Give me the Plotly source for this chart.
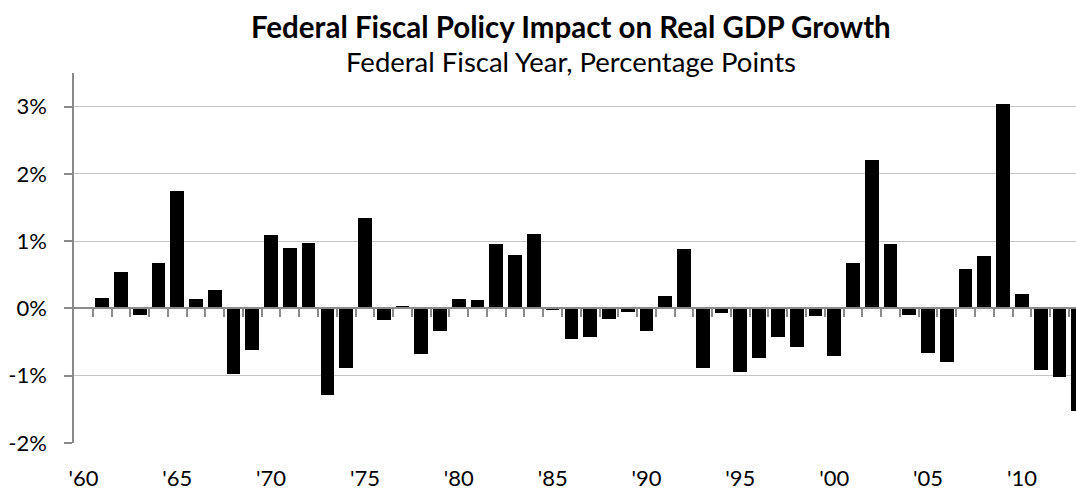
import plotly.graph_objects as go

# ---- data ----
years = list(range(1961, 2014))
impact = [0.15, 0.54, -0.09, 0.67, 1.75, 0.14, 0.27, -0.98, -0.62, 1.09,
          0.90, 0.97, -1.29, -0.89, 1.35, -0.17, 0.04, -0.67, -0.33, 0.14,
          0.13, 0.96, 0.80, 1.11, -0.03, -0.46, -0.43, -0.15, -0.05, -0.34,
          0.19, 0.88, -0.89, -0.07, -0.94, -0.74, -0.42, -0.57, -0.11, -0.71,
          0.67, 2.21, 0.96, -0.10, -0.66, -0.80, 0.59, 0.78, 3.04, 0.22,
          -0.92, -1.02, -1.53]

x_tick_years = [1960, 1965, 1970, 1975, 1980, 1985, 1990, 1995, 2000, 2005, 2010]
x_tick_labels = ["'60", "'65", "'70", "'75", "'80", "'85", "'90", "'95", "'00", "'05", "'10"]
boundary_ticks = [y + 0.5 for y in range(1960, 2013)]
y_tick_vals = [-2, -1, 0, 1, 2, 3]
y_tick_labels = ["-2%", "-1%", "0%", "1%", "2%", "3%"]

title_text = "Federal Fiscal Policy Impact on Real GDP Growth"
subtitle_text = "Federal Fiscal Year, Percentage Points"

FONT = "Lato"
AXIS_GRAY = "#8a8a8a"
GRID_GRAY = "#c4c4c4"

fig = go.Figure()
fig.add_trace(go.Bar(
    x=years, y=impact, width=0.73,
    marker=dict(color="black", line=dict(width=0)),
    xaxis="x", yaxis="y", showlegend=False,
))
# invisible trace so the zero-crossing category axis is drawn
fig.add_trace(go.Scatter(x=[], y=[], xaxis="x2", yaxis="y", showlegend=False))

W, H = 1076, 489
ml, mr, mt, mb = 74, 0, 73, 46
plot_w = W - ml - mr
x_range = [1959.5, 1959.5 + plot_w / 18.77]
y_range = [-2, 3.5]

fig.update_layout(
    width=W, height=H, autosize=False,
    margin=dict(l=ml, r=mr, t=mt, b=mb, autoexpand=False),
    paper_bgcolor="white", plot_bgcolor="white",
    font=dict(family=FONT, color="black"),
    bargap=0,
    xaxis=dict(
        range=x_range, tickmode="array", tickvals=x_tick_years, ticktext=x_tick_labels,
        showgrid=False, zeroline=False, showline=False, ticks="",
        tickfont=dict(family=FONT, size=22, color="black"),
        ticklabelstandoff=20, automargin=False,
    ),
    xaxis2=dict(
        range=x_range, overlaying="x", matches="x", anchor="free",
        position=(0 - y_range[0]) / (y_range[1] - y_range[0]), side="bottom",
        tickmode="array", tickvals=boundary_ticks, showticklabels=False,
        ticks="outside", ticklen=8, tickwidth=1.5, tickcolor=AXIS_GRAY,
        showline=True, linecolor=AXIS_GRAY, linewidth=1.5,
        showgrid=False, zeroline=False, automargin=False,
    ),
    yaxis=dict(
        range=y_range, tickmode="array", tickvals=y_tick_vals, ticktext=y_tick_labels,
        showgrid=True, gridcolor=GRID_GRAY, gridwidth=1.3, zeroline=False,
        showline=True, linecolor=AXIS_GRAY, linewidth=1.5,
        ticks="outside", ticklen=8, tickwidth=1.5, tickcolor=AXIS_GRAY,
        tickfont=dict(family=FONT, size=22, color="black"),
        ticklabelstandoff=13, automargin=False,
    ),
    annotations=[
        dict(text=title_text, xref="paper", yref="paper", x=0.496, y=1.127,
             xanchor="center", yanchor="middle", showarrow=False,
             font=dict(family=FONT, size=29.5, color="black", weight="bold")),
        dict(text=subtitle_text, xref="paper", yref="paper", x=0.496, y=1.031,
             xanchor="center", yanchor="middle", showarrow=False,
             font=dict(family=FONT, size=27.5, color="black")),
    ],
)

# remove the browser's default 8px body margin so the chart sits at (0, 0)
fig.write_html("out.html", config={"displayModeBar": False},
               post_script="document.body.style.margin='0px';")
